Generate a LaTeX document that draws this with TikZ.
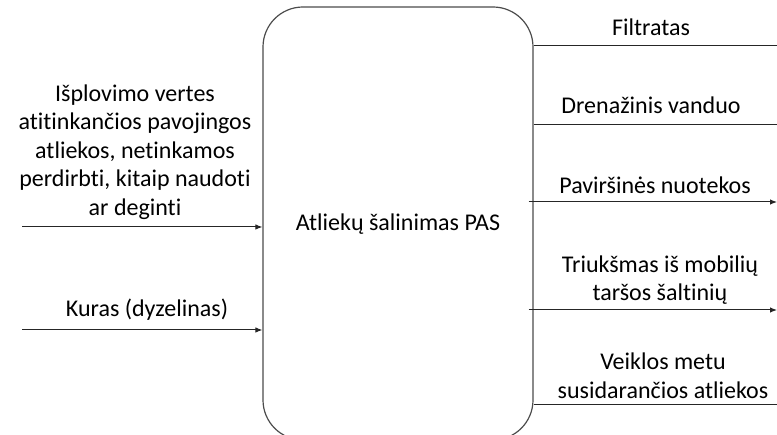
\documentclass[tikz,border=0pt]{standalone}
\usepackage{fontspec}
\setmainfont[RawFeature={-liga}]{Carlito}
\usetikzlibrary{arrows.meta}
\begin{document}
\begin{tikzpicture}[x=1pt,y=-1pt,
  lbl/.style={align=center,inner sep=0pt,font=\fontsize{24pt}{28.5pt}\selectfont,text=black},
  flow/.style={line width=1pt,draw=black!85},
  tip/.style={-{Latex[length=7pt,width=5.5pt]}},
  procbox/.style={draw=black!70,line width=1.2pt,rounded corners=40pt,minimum width=270pt,minimum height=433pt,inner sep=0pt}]
\useasboundingbox (0,0) rectangle (777,435);
\clip (0,0) rectangle (777,435);
\node[procbox] (box) at (398,223.5) {};
\node[lbl] (boxlbl) at (398,224) {Atliekų šalinimas PAS};
% inputs
\node[lbl] (in1lbl) at (135,152) {Išplovimo vertes\\atitinkančios pavojingos\\atliekos, netinkamos\\perdirbti, kitaip naudoti\\ar deginti};
\coordinate (in1) at (22,227);
\draw[flow,tip] (in1) -- (box.west |- in1);
\node[lbl] (in2lbl) at (147,310) {Kuras (dyzelinas)};
\coordinate (in2) at (22,330);
\draw[flow,tip] (in2) -- (box.west |- in2);
% outputs
\node[lbl] (o1lbl) at (651,27) {Filtratas};
\coordinate (o1) at (790,46);
\draw[flow,tip] (box.east |- o1) -- (o1);
\node[lbl] (o2lbl) at (651,105) {Drenažinis vanduo};
\coordinate (o2) at (790,125);
\draw[flow,tip] (box.east |- o2) -- (o2);
\node[lbl] (o3lbl) at (655,185) {Paviršinės nuotekos};
\coordinate (o3) at (777,202);
\draw[flow,tip] ([xshift=-5pt]box.east |- o3) -- (o3);
\node[lbl] (o4lbl) at (660,280) {Triukšmas iš mobilių\\taršos šaltinių};
\coordinate (o4) at (777,310);
\draw[flow,tip] ([xshift=-5pt]box.east |- o4) -- (o4);
\node[lbl] (o5lbl) at (663,376) {Veiklos metu\\susidarančios atliekos};
\coordinate (o5) at (790,405);
\draw[flow,tip] (box.east |- o5) -- (o5);
\end{tikzpicture}
\end{document}
